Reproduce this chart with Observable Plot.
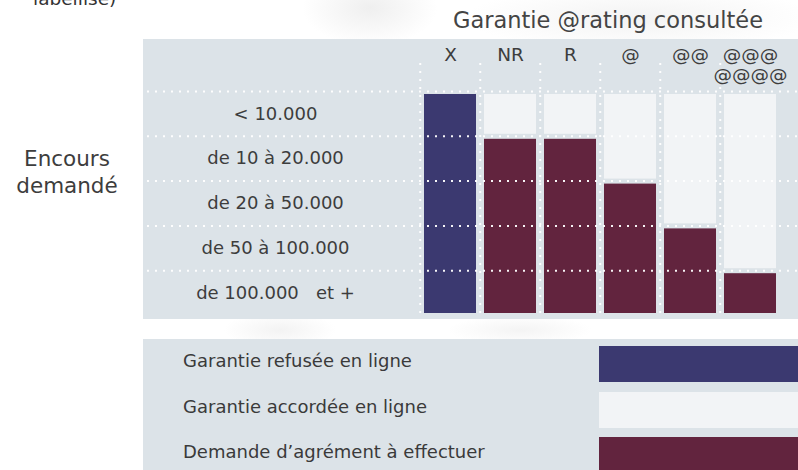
<!DOCTYPE html>
<html>
<head>
<meta charset="utf-8">
<script src="https://cdn.jsdelivr.net/npm/d3@7"></script>
<script src="https://cdn.jsdelivr.net/npm/@observablehq/plot@0.6"></script>
<style>
  html, body { margin: 0; padding: 0; width: 798px; height: 470px; overflow: hidden; background: #fff;
    font-family: "DejaVu Sans", sans-serif; color: #3d3d3d; }
  #bg { position: absolute; left: 0; top: 0; width: 798px; height: 470px;
    background:
      radial-gradient(ellipse 90px 50px at 370px 8px, #efefef, rgba(255,255,255,0) 75%),
      radial-gradient(ellipse 220px 40px at 640px 18px, #f3f3f3, rgba(255,255,255,0) 80%),
      radial-gradient(ellipse 70px 22px at 280px 330px, #f3f3f3, rgba(255,255,255,0) 80%),
      radial-gradient(ellipse 90px 18px at 520px 330px, #f4f4f4, rgba(255,255,255,0) 80%); }
  #cut { position: absolute; left: 33px; top: -12px; font-size: 18.5px; line-height: 22px; color: #333; white-space: nowrap; }
  #title { position: absolute; left: 408px; width: 400px; top: 7px; text-align: center; font-size: 22.5px; line-height: 26px; color: #444; white-space: nowrap; }
  #ylab { position: absolute; left: 0; width: 134px; top: 145px; text-align: center; font-size: 21.5px; line-height: 27px; color: #3d3d3d; }
  #chart { position: absolute; left: 143px; top: 39px; }
  #legend { position: absolute; left: 143px; top: 339px; width: 655px; height: 131px; background: #dce3e8; }
  .ltext { position: absolute; left: 40px; height: 36px; line-height: 29px; font-size: 18px; color: #3a3a3a; white-space: nowrap; }
  .lsw { position: absolute; left: 456px; width: 199px; height: 36px; }
</style>
</head>
<body>
<div id="bg"></div>
<div id="cut"></div>
<div id="title"></div>
<div id="ylab"></div>
<div id="chart"></div>
<div id="legend"></div>
<script>
// ---- data ----
const titleText = "Garantie @rating consultée";
const rowTitle = ["Encours", "demandé"];
const cutText = "labellisé)";
const columns = ["X", "NR", "R", "@", "@@", "@@@\n@@@@"];
const rows = ["< 10.000", "de 10 à 20.000", "de 20 à 50.000", "de 50 à 100.000", "de 100.000\u00a0\u00a0\u00a0et +"];
const outcomes = ["Garantie refusée en ligne", "Garantie accordée en ligne", "Demande d\u2019agrément à effectuer"];
// decision per amount row (top to bottom) and rating column: index into outcomes
const decision = [
  [0, 1, 1, 1, 1, 1],
  [0, 2, 2, 1, 1, 1],
  [0, 2, 2, 2, 1, 1],
  [0, 2, 2, 2, 2, 1],
  [0, 2, 2, 2, 2, 2]
];

// ---- merge consecutive identical decisions into blocks per column ----
const blocks = [];
columns.forEach((col, c) => {
  let start = 0;
  for (let r = 1; r <= rows.length; r++) {
    if (r === rows.length || decision[r][c] !== decision[start][c]) {
      blocks.push({col, start, end: r, outcome: outcomes[decision[start][c]]});
      start = r;
    }
  }
});

document.getElementById("cut").textContent = cutText;
document.getElementById("title").textContent = titleText;
document.getElementById("ylab").innerHTML = rowTitle.join("<br>");

const W = 655, H = 280, mL = 275, mR = 17, mT = 52, mB = 4;
const bw = (W - mL - mR) / columns.length;
const dotted = {stroke: "white", strokeWidth: 2, strokeDasharray: "2 6", strokeOpacity: 0.95};

const chart = Plot.plot({
  width: W, height: H,
  marginLeft: mL, marginRight: mR, marginTop: mT, marginBottom: mB,
  style: {background: "#dce3e8", fontFamily: "'DejaVu Sans', sans-serif", color: "#3d3d3d", overflow: "visible"},
  x: {type: "band", domain: columns, padding: 0, label: null},
  y: {domain: [0, rows.length], reverse: true, label: null},
  color: {type: "ordinal", domain: outcomes, range: ["#3b3970", "#f2f4f6", "#62243e"]},
  marks: [
    Plot.barY(blocks, {x: "col", y1: "start", y2: "end", fill: "outcome",
      insetLeft: 4, insetRight: 4, insetTop: 3, insetBottom: 2}),
    Plot.ruleY(d3.range(rows.length), {...dotted, insetLeft: -(mL - 4), insetRight: -mR}),
    Plot.ruleX(columns, {x: d => d, dx: -bw / 2, ...dotted, insetTop: -28, insetBottom: -mB}),
    Plot.axisX({anchor: "top", tickSize: 0, tickPadding: 0, lineAnchor: "top", lineHeight: 1.1,
      dy: -45, fontSize: 18.5, label: null}),
    Plot.axisY(d3.range(rows.length).map(i => i + 0.5), {anchor: "left", tickSize: 0, tickPadding: 0,
      tickFormat: d => rows[Math.floor(d)], textAnchor: "middle", dx: -143, fontSize: 18, label: null})
  ]
});
document.getElementById("chart").appendChild(chart);

// ---- legend below ----
const color = chart.scale("color");
const legend = document.getElementById("legend");
outcomes.forEach((o, i) => {
  const top = 7 + i * 45.5;
  const t = document.createElement("div");
  t.className = "ltext"; t.style.top = top + "px"; t.textContent = o;
  const s = document.createElement("div");
  s.className = "lsw"; s.style.top = top + "px"; s.style.background = color.apply(o);
  legend.appendChild(t); legend.appendChild(s);
});
</script>
</body>
</html>
